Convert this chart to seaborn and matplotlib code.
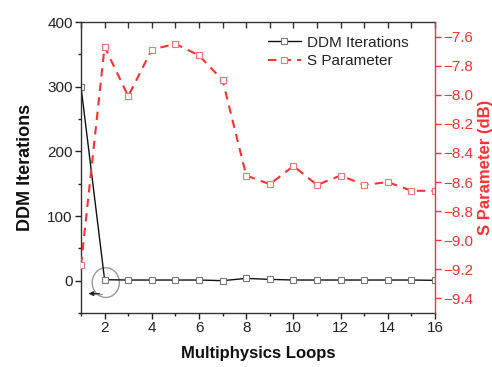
import matplotlib
matplotlib.use("Agg")
import matplotlib.pyplot as plt
import seaborn as sns
import pandas as pd
from matplotlib.patches import Ellipse
from matplotlib.ticker import MultipleLocator

loops = list(range(1, 17))
ddm_iterations = [300, 1.5, 1, 1, 1, 1, 0, 3.5, 2, 1, 1, 1, 1, 1, 1, 0.5]
s_parameter = [-9.17, -7.67, -8.01, -7.69, -7.65, -7.73, -7.90, -8.555,
               -8.615, -8.49, -8.62, -8.555, -8.62, -8.60, -8.66, -8.66]

sns.set_theme(style="white")
plt.rcParams['font.family'] = ['Liberation Sans', 'DejaVu Sans']

df = pd.DataFrame({"loop": loops, "ddm": ddm_iterations, "s": s_parameter})

fig = plt.figure(figsize=(4.92, 3.67), dpi=100)
ax = fig.add_axes([81/492, 1-313/367, (435-81)/492, (313-22)/367])
ax2 = ax.twinx()

red = "#ff3030"
sns.lineplot(data=df, x="loop", y="ddm", ax=ax, color="#111111", lw=1.0,
             marker="s", markersize=4.5, markerfacecolor="white",
             markeredgecolor="#777777", markeredgewidth=0.8, label="DDM Iterations",
             legend=False)
sns.lineplot(data=df, x="loop", y="s", ax=ax2, color=red, lw=1.5,
             marker="s", markersize=4.5, markerfacecolor="white",
             markeredgecolor="#ff7070", markeredgewidth=0.8, label="S Parameter",
             legend=False)
ax2.lines[0].set_dashes([4, 3])

ax.set_xlim(1, 16)
ax.set_ylim(-50, 400)
ax2.set_ylim(-9.5, -7.5)

ax.xaxis.set_major_locator(MultipleLocator(2))
ax.xaxis.set_minor_locator(MultipleLocator(1))
ax.yaxis.set_major_locator(MultipleLocator(100))
ax.yaxis.set_minor_locator(MultipleLocator(50))
ax2.yaxis.set_major_locator(MultipleLocator(0.2))

ts = 11
ax.tick_params(axis='x', which='both', bottom=True, top=False, direction='out',
               labelsize=ts, colors='#222222', pad=2)
ax.tick_params(axis='x', which='major', length=4, width=1)
ax.tick_params(axis='x', which='minor', length=2.5, width=1)
ax.tick_params(axis='y', which='both', left=True, direction='out',
               labelsize=ts, colors='#222222', pad=2)
ax.tick_params(axis='y', which='major', length=4, width=1)
ax.tick_params(axis='y', which='minor', length=2.5, width=1)
ax2.tick_params(axis='y', which='major', right=True, direction='out', length=4,
                width=1, colors=red, labelsize=ts, pad=2)

for s in ['left', 'bottom', 'top']:
    ax.spines[s].set_color('#333333')
    ax.spines[s].set_linewidth(1.0)
for s in ['left', 'bottom', 'top']:
    ax2.spines[s].set_visible(False)
ax2.spines['right'].set_color(red)
ax2.spines['right'].set_linewidth(1.0)
ax.spines['right'].set_visible(False)

secx = ax.secondary_xaxis('top')
secx.xaxis.set_major_locator(MultipleLocator(1))
secx.tick_params(direction='in', length=4, width=1, labeltop=False, colors='#333333')
secx.spines['top'].set_visible(False)

ax.set_xlabel("Multiphysics Loops", fontsize=12, fontweight='bold', color='#111111')
ax.xaxis.set_label_coords(0.5, -0.115)
ax.set_ylabel("DDM Iterations", fontsize=13, fontweight='bold', color='#111111')
ax.yaxis.set_label_coords(-0.132, 0.5)
ax2.set_ylabel("S Parameter (dB)", fontsize=12, fontweight='bold', color=red)
ax2.yaxis.set_label_coords(1.122, 0.5)

# annotation ellipse and arrow
ell = Ellipse((2.05, -3), width=1.15, height=46, fill=False, edgecolor='#999999', lw=1.0)
ax.add_patch(ell)
ax.annotate("", xy=(1.2, -20), xytext=(1.9, -20),
            arrowprops=dict(arrowstyle='-|>', color='#222222', lw=0.8,
                            mutation_scale=7))
ax.plot([1.55, 1.9], [-20, -20], color='#999999', lw=1.0)

h1, l1 = ax.get_legend_handles_labels()
h2, l2 = ax2.get_legend_handles_labels()
ax2.legend(h1 + h2, l1 + l2, loc='upper right', bbox_to_anchor=(0.965, 1.0),
           frameon=False, fontsize=11, handlelength=2.2, handletextpad=0.4,
           labelspacing=0.3, labelcolor='#222222')

fig.savefig("out.png", dpi=100)
